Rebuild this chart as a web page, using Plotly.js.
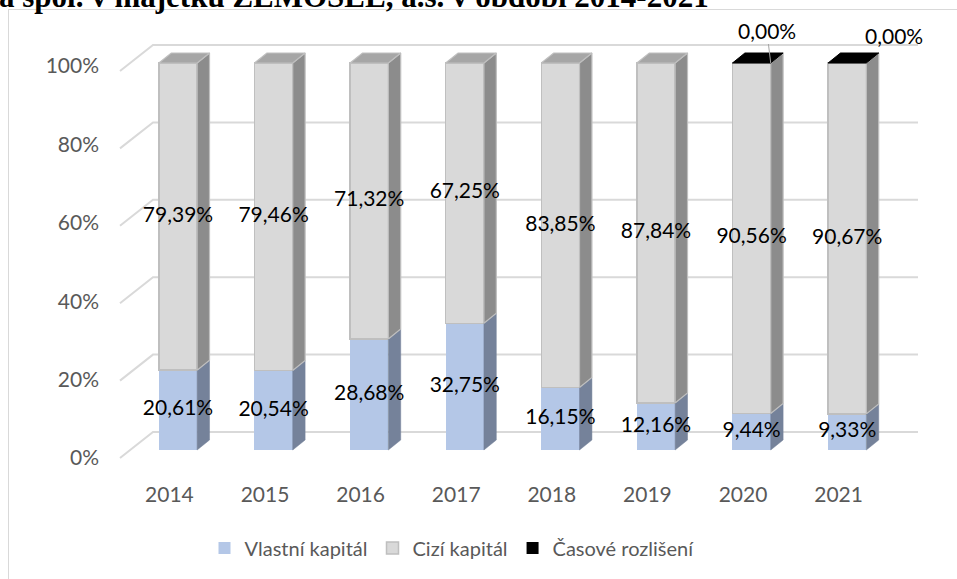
<!DOCTYPE html>
<html>
<head>
<meta charset="utf-8">
<script src="https://cdn.plot.ly/plotly-3.0.1.min.js"></script>
<style>
  html, body { margin: 0; padding: 0; background: #ffffff; overflow: hidden; }
  #frame { position: absolute; left: 8px; top: 9px; width: 1200px; height: 800px;
           border: 1.5px solid #D9D9D9; box-sizing: border-box; }
  #chart { position: absolute; left: 0; top: 0; width: 957px; height: 579px; }
</style>
</head>
<body>
<div id="frame"></div>
<div id="chart"></div>
<script>
// ---- data ----
const years = ['2014', '2015', '2016', '2017', '2018', '2019', '2020', '2021'];
const vlastniKapital = [20.61, 20.54, 28.68, 32.75, 16.15, 12.16, 9.44, 9.33];
const ciziKapital = [79.39, 79.46, 71.32, 67.25, 83.85, 87.84, 90.56, 90.67];
const casoveRozliseni = [null, null, null, null, null, null, 0.00, 0.00];
const yTicks = [0, 20, 40, 60, 80, 100];
const seriesNames = ['Vlastní kapitál', 'Cizí kapitál', 'Časové rozlišení'];
const titleText = 'a spol. v majetku ZEMOSEL, a.s. v období 2014-2021';

// ---- geometry (pixels of the 957x579 canvas) ----
const W = 957, H = 579;
const PL = 100, PR = 930, PT = 20, PB = 480;
const X0 = 178, DX = 95.6;          // px of first category, px per category
const Y0 = 450, KY = 3.87;          // px of 0 % on the bar front, px per %
const xRange = [(PL - X0) / DX, (PR - X0) / DX];
const yRange = [(Y0 - PB) / KY, (Y0 - PT) / KY];
// tick-label axis (front floor edge)
const LY0 = 458, LKY = 3.92;
const y2Range = [(LY0 - PB) / LKY, (LY0 - PT) / LKY];

const BW = 0.4;                     // bar front width (category units)
const DEPX = 12.4 / DX;             // 3D depth offsets
const DEPY = 10 / KY;
const GF = -8 / KY, GB = 18 / KY;   // gridline front / back offsets (in %)
const GX0 = (120 - X0) / DX, GX1 = (153 - X0) / DX, GX2 = (918 - X0) / DX;

const fmt = v => v.toFixed(2).replace('.', ',') + '%';
const idx = years.map((_, i) => i);

const traces = [];

// front faces as real bars
traces.push({
  type: 'bar', name: seriesNames[0], x: idx, y: vlastniKapital, width: BW,
  marker: { color: '#B4C7E7', line: { width: 0 } }, hoverinfo: 'skip'
});
traces.push({
  type: 'bar', name: seriesNames[1], x: idx, y: ciziKapital, width: BW,
  marker: { color: '#D9D9D9', line: { width: 1.5, color: '#BFBFBF' } }, hoverinfo: 'skip'
});
traces.push({
  type: 'bar', name: seriesNames[2], x: idx, y: casoveRozliseni, width: BW,
  marker: { color: '#000000', line: { width: 0 } }, hoverinfo: 'skip'
});

// side faces
function sidePolys(bases, vals) {
  const xs = [], ys = [];
  idx.forEach(i => {
    const b0 = bases[i], b1 = bases[i] + vals[i];
    const xr = i + BW / 2;
    xs.push(xr, xr, xr + DEPX, xr + DEPX, xr, null);
    ys.push(b0, b1, b1 + DEPY, b0 + DEPY, b0, null);
  });
  return { xs, ys };
}
const zeros = idx.map(() => 0);
const sBlue = sidePolys(zeros, vlastniKapital);
const sGrey = sidePolys(vlastniKapital, ciziKapital);
traces.push({
  type: 'scatter', mode: 'lines', x: sBlue.xs, y: sBlue.ys, fill: 'toself',
  fillcolor: '#75829A', line: { width: 0.5, color: '#75829A' },
  showlegend: false, hoverinfo: 'skip', connectgaps: false
});
traces.push({
  type: 'scatter', mode: 'lines', x: sGrey.xs, y: sGrey.ys, fill: 'toself',
  fillcolor: '#8C8C8C', line: { width: 1.2, color: '#BFBFBF' },
  showlegend: false, hoverinfo: 'skip', connectgaps: false
});

// top faces
function topPolys(filterFn) {
  const xs = [], ys = [];
  idx.forEach(i => {
    if (!filterFn(i)) return;
    const top = vlastniKapital[i] + ciziKapital[i] + (casoveRozliseni[i] || 0);
    const xl = i - BW / 2, xr = i + BW / 2;
    xs.push(xl, xr, xr + DEPX, xl + DEPX, xl, null);
    ys.push(top, top, top + DEPY, top + DEPY, top, null);
  });
  return { xs, ys };
}
const tGrey = topPolys(i => casoveRozliseni[i] === null);
const tBlack = topPolys(i => casoveRozliseni[i] !== null);
traces.push({
  type: 'scatter', mode: 'lines', x: tGrey.xs, y: tGrey.ys, fill: 'toself',
  fillcolor: '#A6A6A6', line: { width: 1.2, color: '#BFBFBF' },
  showlegend: false, hoverinfo: 'skip'
});
traces.push({
  type: 'scatter', mode: 'lines', x: tBlack.xs, y: tBlack.ys, fill: 'toself',
  fillcolor: '#000000', line: { width: 1, color: '#000000' },
  showlegend: false, hoverinfo: 'skip'
});

// data labels
const labelFont = { family: 'Lato, "Open Sans", sans-serif', size: 21, color: '#000000' };
traces.push({
  type: 'scatter', mode: 'text', x: idx, y: vlastniKapital.map(v => v / 2),
  text: vlastniKapital.map(fmt), textposition: 'middle center', textfont: labelFont,
  showlegend: false, hoverinfo: 'skip', cliponaxis: false
});
traces.push({
  type: 'scatter', mode: 'text', x: idx,
  y: ciziKapital.map((v, i) => vlastniKapital[i] + v / 2),
  text: ciziKapital.map(fmt), textposition: 'middle center', textfont: labelFont,
  showlegend: false, hoverinfo: 'skip', cliponaxis: false
});

// 3D gridlines as shapes below the data
const shapes = yTicks.map(v => ({
  type: 'path', xref: 'x', yref: 'y', layer: 'below',
  path: `M${GX0},${v + GF} L${GX1},${v + GB} L${GX2},${v + GB}`,
  line: { color: '#D9D9D9', width: 2 }
}));

// labels for Časové rozlišení (manually placed in the original)
const annotations = [];
idx.forEach(i => {
  const v = casoveRozliseni[i];
  if (v === null) return;
  const top = vlastniKapital[i] + ciziKapital[i] + v;
  if (i === 6) {
    annotations.push({
      x: i + BW / 2, y: top, xref: 'x', yref: 'y', text: fmt(v),
      showarrow: true, arrowhead: 0, arrowwidth: 1, arrowcolor: '#A6A6A6',
      ax: -4, ay: -33, standoff: 0, font: labelFont
    });
  } else {
    annotations.push({
      x: i + 0.49, y: top + 7, xref: 'x', yref: 'y', text: fmt(v),
      showarrow: false, font: labelFont
    });
  }
});
// cut-off heading at the very top (as in the original picture)
annotations.push({
  xref: 'paper', yref: 'paper',
  x: (-3 - PL) / (PR - PL), y: (PB + 3) / (PB - PT),
  xanchor: 'left', yanchor: 'middle', showarrow: false, text: '<b>' + titleText + '</b>',
  font: { family: '"Liberation Serif", "DejaVu Serif", serif', size: 31, color: '#000000' }
});

const axisFont = { family: 'Lato, "Open Sans", sans-serif', size: 21, color: '#595959' };
const layout = {
  width: W, height: H,
  margin: { l: PL, r: W - PR, t: PT, b: H - PB, pad: 0 },
  paper_bgcolor: 'rgba(0,0,0,0)', plot_bgcolor: 'rgba(0,0,0,0)',
  barmode: 'stack', bargap: 0,
  showlegend: true,
  legend: {
    orientation: 'h', x: (452 - PL) / (PR - PL), xanchor: 'center',
    y: (PB - 548) / (PB - PT), yanchor: 'middle',
    font: { family: 'Lato, "Open Sans", sans-serif', size: 20, color: '#595959' },
    traceorder: 'normal', itemclick: false
  },
  xaxis: {
    range: xRange, showgrid: false, zeroline: false, showline: false, ticks: '',
    tickmode: 'array', tickvals: idx.map(i => i - 0.09), ticktext: years,
    tickfont: axisFont, fixedrange: true
  },
  yaxis: {
    range: yRange, showgrid: false, zeroline: false, showline: false,
    showticklabels: false, ticks: '', fixedrange: true
  },
  yaxis2: {
    overlaying: 'y', side: 'left', range: y2Range, showgrid: false, zeroline: false,
    showline: false, ticks: '', tickmode: 'array', tickvals: yTicks,
    ticktext: yTicks.map(v => v + '%'), tickfont: axisFont, fixedrange: true
  },
  shapes: shapes,
  annotations: annotations
};
// invisible trace so that the label axis is drawn
traces.push({
  type: 'scatter', mode: 'markers', x: [idx[0]], y: [yTicks[0]], yaxis: 'y2',
  marker: { opacity: 0 }, showlegend: false, hoverinfo: 'skip'
});

Plotly.newPlot('chart', traces, layout, { displayModeBar: false, staticPlot: true });
</script>
</body>
</html>
